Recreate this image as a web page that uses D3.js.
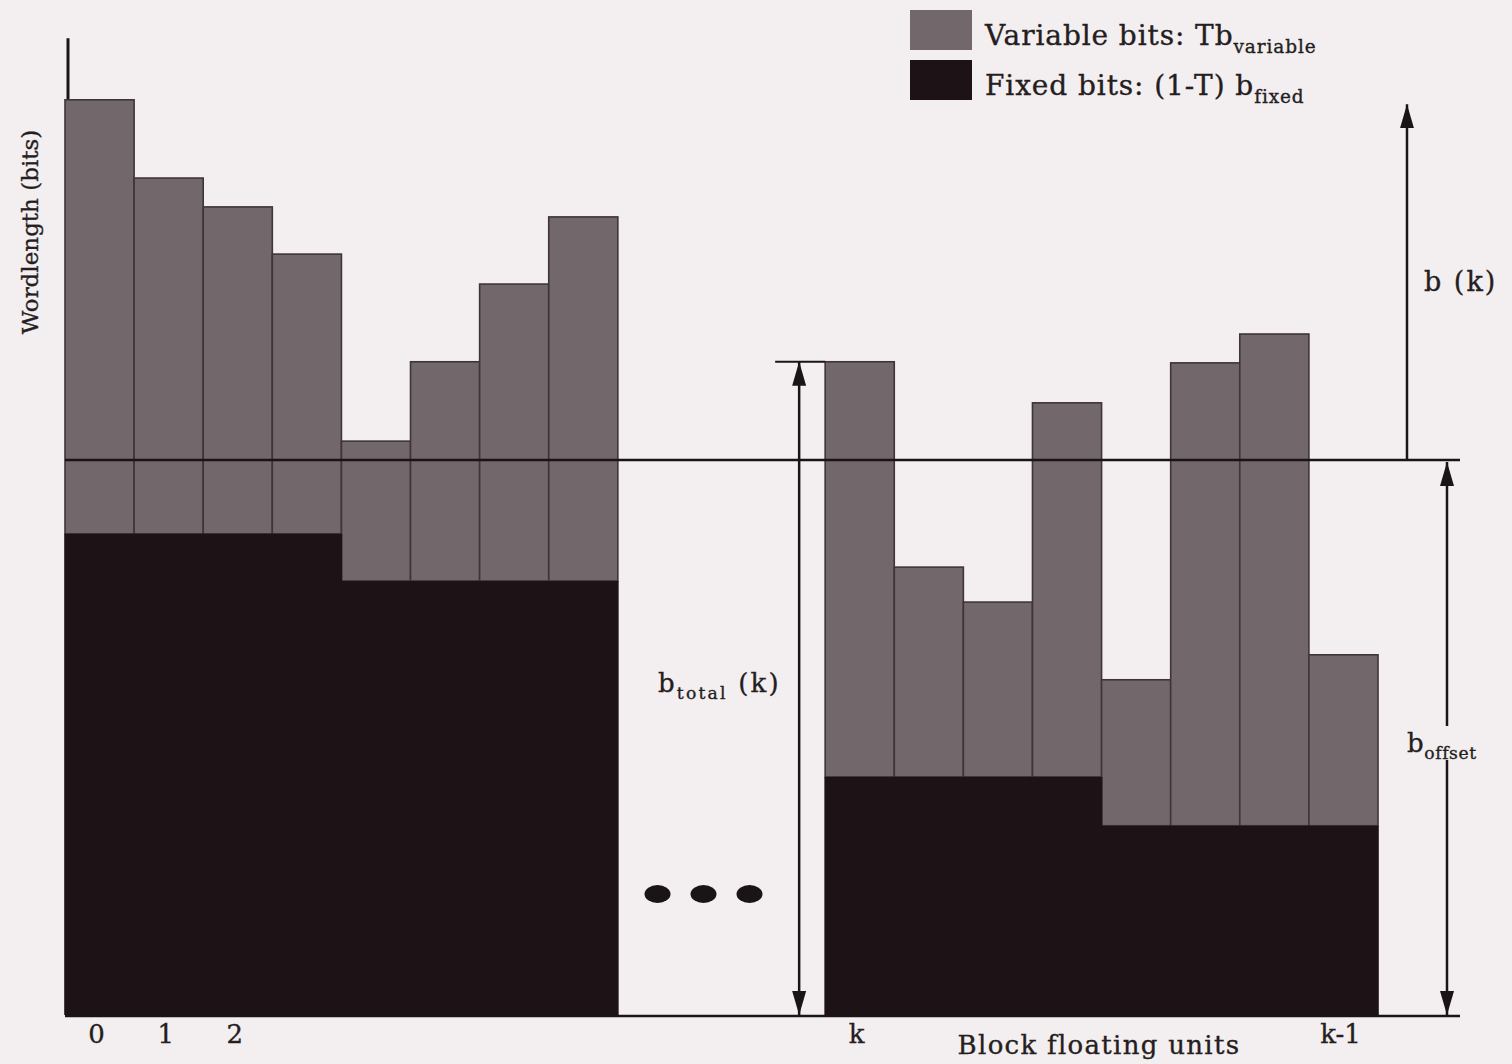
<!DOCTYPE html>
<html><head><meta charset="utf-8">
<script src="https://cdn.jsdelivr.net/npm/d3@7"></script>
<style>html,body{margin:0;padding:0;background:#f3eff0;}svg{display:block;} text{stroke:#251d20;stroke-width:0.35px;}</style>
</head><body>
<script>
// ---- data ----
const leftUnits = ["0","1","2","3","4","5","6","7"];
const gapSlots = ["gap1","gap2","gap3"];
const rightUnits = ["k","k+1","k+2","k+3","k+4","k+5","k+6","k+7"];
const totalLeft = [164.9,150.8,145.6,137.1,103.4,117.7,131.7,143.8];
const fixedLeft = [86.7,86.7,86.7,86.7,78.2,78.2,78.2,78.2];
const totalRight = [117.7,80.7,74.4,110.3,60.4,117.5,122.7,64.9];
const fixedRight = [42.9,42.9,42.9,42.9,34.1,34.1,34.1,34.1];
const bOffset = 100;
const yAxisMax = 176;
const bkTop = 164.1;
const tickUnits = ["0","1","2","k","k+7"];
const tickTexts = ["0","1","2","k","k-1"];
const legendLabels = [["Variable bits: Tb","variable"],["Fixed bits: (1-T) b","fixed"]];

const W = 1512, H = 1064;
const colVar = "#72676b", colFix = "#1d1317", ink = "#1a1416", bg = "#f3eff0", txt = "#251d20";
const serif = "'DejaVu Serif', 'Liberation Serif', serif";

const svg = d3.select("body").append("svg").attr("width", W).attr("height", H);
svg.append("rect").attr("width", W).attr("height", H).attr("fill", bg);

const x = d3.scaleBand().domain([...leftUnits, ...gapSlots, ...rightUnits]).range([65, 1378]).padding(0);
const y = d3.scaleLinear().domain([0, bOffset]).range([1015, 460]);
const bw = x.bandwidth();

const bars = [
  ...leftUnits.map((u, i) => ({u, total: totalLeft[i], fixed: fixedLeft[i]})),
  ...rightUnits.map((u, i) => ({u, total: totalRight[i], fixed: fixedRight[i]}))
];

const defs = svg.append("defs");
defs.append("marker").attr("id", "ah").attr("viewBox", "0 0 24 16").attr("refX", 24).attr("refY", 8)
  .attr("markerUnits", "userSpaceOnUse").attr("markerWidth", 24).attr("markerHeight", 16).attr("orient", "auto-start-reverse")
  .append("path").attr("d", "M0,1 L24,8 L0,15 Z").attr("fill", ink);

// y axis line
svg.append("line").attr("x1", x("0") + 3).attr("x2", x("0") + 3).attr("y1", y(yAxisMax)).attr("y2", y(0))
  .attr("stroke", ink).attr("stroke-width", 3);

// variable parts
svg.append("g").selectAll("rect").data(bars).join("rect")
  .attr("x", d => x(d.u)).attr("width", bw)
  .attr("y", d => y(d.total)).attr("height", d => y(d.fixed) - y(d.total))
  .attr("fill", colVar).attr("stroke", "#3f3539").attr("stroke-width", 1.6);
// fixed parts
svg.append("g").selectAll("rect").data(bars).join("rect")
  .attr("x", d => x(d.u) - 0.8).attr("width", bw + 1.6)
  .attr("y", d => y(d.fixed)).attr("height", d => y(0) - y(d.fixed))
  .attr("fill", colFix);

// offset line & baseline
const xEnd = x("k+7") + bw + 82;
svg.append("line").attr("x1", x("0")).attr("x2", xEnd).attr("y1", y(bOffset)).attr("y2", y(bOffset))
  .attr("stroke", ink).attr("stroke-width", 2.5);
svg.append("line").attr("x1", x("0")).attr("x2", xEnd).attr("y1", y(0) + 1).attr("y2", y(0) + 1)
  .attr("stroke", ink).attr("stroke-width", 2.5);

// dots in gap
const gapStart = x("7") + bw, gapEnd = x("k");
const gapMid = (gapStart + gapEnd) / 2 - 18;
[-1, 0, 1].forEach(k => {
  svg.append("ellipse").attr("cx", gapMid + k * 46).attr("cy", y(21.8)).attr("rx", 13).attr("ry", 9).attr("fill", ink);
});

// b_total arrow
const kTop = y(totalRight[0]);
const bxT = x("k") - 26;
svg.append("line").attr("x1", bxT - 24).attr("x2", x("k")).attr("y1", kTop).attr("y2", kTop).attr("stroke", ink).attr("stroke-width", 2);
svg.append("line").attr("x1", bxT).attr("x2", bxT).attr("y1", kTop).attr("y2", y(0))
  .attr("stroke", ink).attr("stroke-width", 2.5).attr("marker-start", "url(#ah)").attr("marker-end", "url(#ah)");

// b(k) arrow
const bxK = x("k+7") + bw + 29;
svg.append("line").attr("x1", bxK).attr("x2", bxK).attr("y1", y(bOffset)).attr("y2", y(bkTop))
  .attr("stroke", ink).attr("stroke-width", 2.5).attr("marker-end", "url(#ah)");
// b_offset arrow
const bxO = x("k+7") + bw + 69;
svg.append("line").attr("x1", bxO).attr("x2", bxO).attr("y1", y(bOffset) + 2).attr("y2", y(0))
  .attr("stroke", ink).attr("stroke-width", 2.5).attr("marker-start", "url(#ah)").attr("marker-end", "url(#ah)");

// text helpers
function subText(g, xx, yy, main, sub, size, after, ls) {
  const t = g.append("text").attr("x", xx).attr("y", yy).attr("font-family", serif).attr("font-size", size)
    .attr("fill", txt).attr("letter-spacing", ls || 0);
  t.append("tspan").text(main);
  t.append("tspan").attr("dy", size * 0.27).attr("font-size", size * 0.66).text(sub);
  if (after) t.append("tspan").attr("dy", -size * 0.27).text(after);
  return t;
}
// labels
const lbl = svg.append("g");
subText(lbl, 658, 692, "b", "total", 26, " (k)", 2.2);
lbl.append("text").attr("x", 1424).attr("y", 291).attr("font-family", serif).attr("font-size", 27)
  .attr("fill", txt).attr("letter-spacing", 2).text("b (k)");
// b_offset label with background gap over the arrow
lbl.append("rect").attr("x", 1404).attr("y", 726).attr("width", 95).attr("height", 34).attr("fill", bg);
subText(lbl, 1407, 752, "b", "offset", 26, null, 0.6);

// tick labels
svg.append("g").selectAll("text").data(tickUnits).join("text")
  .attr("x", d => x(d) + bw / 2 - 3).attr("y", 1043).attr("text-anchor", "middle")
  .attr("font-family", serif).attr("font-size", 26).attr("fill", txt)
  .text((d, i) => tickTexts[i]);

// axis titles
svg.append("text").attr("x", 1099).attr("y", 1054).attr("text-anchor", "middle")
  .attr("font-family", serif).attr("font-size", 26).attr("letter-spacing", 1.3).attr("fill", txt).text("Block floating units");
svg.append("text").attr("transform", "translate(38,232) rotate(-90)").attr("text-anchor", "middle")
  .attr("font-family", serif).attr("font-size", 23).attr("fill", txt).text("Wordlength (bits)");

// legend
const leg = svg.append("g");
[colVar, colFix].forEach((c, i) => {
  leg.append("rect").attr("x", 910).attr("y", 10 + i * 50).attr("width", 62).attr("height", 40).attr("fill", c);
  subText(leg, 985, 45 + i * 50, legendLabels[i][0], legendLabels[i][1], 28, null, 0.9);
});
</script>
</body></html>
